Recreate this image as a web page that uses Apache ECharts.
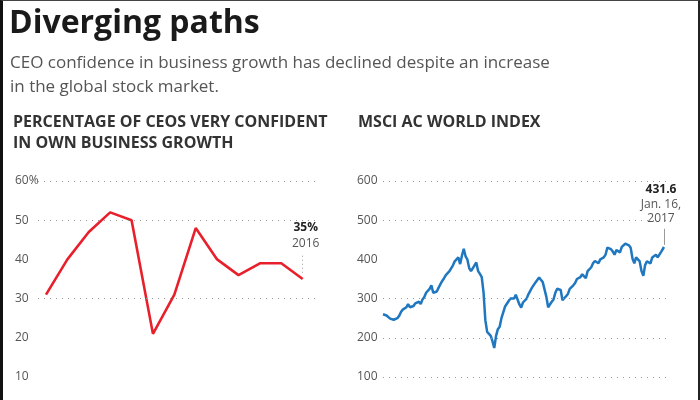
<!DOCTYPE html>
<html><head><meta charset="utf-8">
<script src="https://cdn.jsdelivr.net/npm/echarts@6/dist/echarts.min.js"></script>
<style>
html,body{margin:0;padding:0;background:#fff}
#c{width:700px;height:400px;position:absolute;left:0;top:0}
#frame{position:absolute;left:0;top:0;width:700px;height:400px;box-sizing:border-box;border-left:3px solid #111;border-top:1px solid #444;border-right:2px solid #222;pointer-events:none}
</style>
</head><body><div id="c"></div><div id="frame"></div>
<script>
// ---- CEO confidence (left panel) ----
const ceoYears = [2004,2005,2006,2007,2008,2009,2010,2011,2012,2013,2014,2015,2016];
const ceoPct   = [31,40,47,52,50,21,31,48,40,36,39,39,35];
const ceoTicks = [10,20,30,40,50,60];
const ceoGridValues = [60,50,30];

// ---- MSCI AC World Index (right panel), monthly readings ----
const msci2004 = [260,262,257,253,249,251,246,244,250,256,266,272];
const msci2005 = [270,278,286,278,280,281,288,287,292,286,298,304];
const msci2006 = [315,318,325,334,315,314,318,328,337,345,352,360];
const msci2007 = [365,370,372,385,395,400,405,388,410,427,408,400];
const msci2008 = [378,370,365,385,392,370,363,355,315,245,215,210];
const msci2009 = [205,190,174,205,222,228,250,265,280,285,294,300];
const msci2010 = [296,300,310,315,285,277,290,286,300,311,308,328];
const msci2011 = [335,342,340,354,348,342,337,305,278,285,292,298];
const msci2012 = [315,325,328,322,296,300,306,312,325,330,334,340];
const msci2013 = [350,350,355,362,360,352,370,372,380,390,396,398];
const msci2014 = [390,400,402,405,412,430,428,426,420,412,424,420];
const msci2015 = [418,432,430,440,444,436,430,402,390,405,402,395];
const msci2016 = [370,358,385,395,398,390,405,410,412,405,408,420];
const msciYears = [2004,2005,2006,2007,2008,2009,2010,2011,2012,2013,2014,2015,2016];
const msciMonthly = [msci2004,msci2005,msci2006,msci2007,msci2008,msci2009,msci2010,msci2011,msci2012,msci2013,msci2014,msci2015,msci2016];
const msciLastDate = '2017-01-16';
const msciLastValue = 431.6;
const msciTicks = [100,200,300,400,500,600];
const msciGridValues = [600,500,300,200,100];

const ceoData = ceoYears.map((y,i)=>[y, ceoPct[i]]);
const msciData = [];
msciYears.forEach((y,yi)=>{
  msciMonthly[yi].forEach((v,m)=>{
    msciData.push([y + '-' + String(m+1).padStart(2,'0') + '-01', v]);
  });
});
msciData.push([msciLastDate, msciLastValue]);

const FONT = 'Open Sans';
const gridLine = {type:[1,5], color:'#9a9a9a', width:1};
const tickLabel = {fontFamily:FONT, fontSize:12, color:'#555', align:'left'};

const chart = echarts.init(document.getElementById('c'), null, {renderer:'canvas'});
chart.setOption({
  backgroundColor:'#fff',
  animation:false,
  title:[
    {text:'Diverging paths', left:9, top:8, padding:0,
     textStyle:{fontFamily:FONT, fontWeight:'bold', fontSize:32, color:'#1a1a1a'}},
    {text:'CEO confidence in business growth has declined despite an increase\nin the global stock market.', left:10, top:51, padding:0,
     textStyle:{fontFamily:FONT, fontWeight:'normal', fontSize:17, lineHeight:24, color:'#555'}},
    {text:'PERCENTAGE OF CEOS VERY CONFIDENT\nIN OWN BUSINESS GROWTH', left:13, top:112, padding:0,
     textStyle:{fontFamily:FONT, fontWeight:'bold', fontSize:16, lineHeight:21, color:'#333'}},
    {text:'MSCI AC WORLD INDEX', left:358, top:112, padding:0,
     textStyle:{fontFamily:FONT, fontWeight:'bold', fontSize:16, lineHeight:21, color:'#333'}}
  ],
  grid:[
    {left:38, top:181, width:277, height:196},
    {left:383, top:181, width:285, height:196}
  ],
  xAxis:[
    {type:'value', gridIndex:0, min:2003.626, max:2016.576, show:false},
    {type:'time', gridIndex:1, min:'2004-01-01', max:'2017-03-25', show:false}
  ],
  yAxis:[
    {type:'value', gridIndex:0, min:10, max:60, interval:10,
     axisLine:{show:false}, axisTick:{show:false}, splitLine:{show:false},
     axisLabel:Object.assign({margin:23, formatter:v=> v===60 ? '60%' : String(v)}, tickLabel)},
    {type:'value', gridIndex:1, min:100, max:600, interval:100,
     axisLine:{show:false}, axisTick:{show:false}, splitLine:{show:false},
     axisLabel:Object.assign({margin:26}, tickLabel)}
  ],
  series:[
    {type:'line', xAxisIndex:0, yAxisIndex:0, data:ceoData, symbol:'none',
     lineStyle:{color:'#e8202b', width:2.6}, z:3,
     markLine:{silent:true, symbol:'none', label:{show:false},
       data: ceoGridValues.map(v=>({yAxis:v, lineStyle:gridLine})).concat([
         [{coord:[2016,36.6], lineStyle:{type:[1,3], color:'#999', width:1}}, {coord:[2016,41.3]}]
       ])},
     markPoint:{silent:true, symbol:'circle', symbolSize:1, itemStyle:{color:'rgba(0,0,0,0)'},
       data:[{coord:[2016,42], label:{show:true, position:'top', distance:0, offset:[3,0],
         formatter:'{a|35%}\n{b|2016}',
         rich:{a:{fontFamily:FONT, fontWeight:'bold', fontSize:12, color:'#222', lineHeight:16, align:'center'},
               b:{fontFamily:FONT, fontSize:12, color:'#555', lineHeight:15, align:'center'}}}}]}
    },
    {type:'line', xAxisIndex:1, yAxisIndex:1, data:msciData, symbol:'none',
     lineStyle:{color:'#1f77c0', width:2.5}, z:3,
     markLine:{silent:true, symbol:'none', label:{show:false},
       data: msciGridValues.map(v=>({yAxis:v, lineStyle:gridLine})).concat([
         [{coord:[msciLastDate,437], lineStyle:{type:'solid', color:'#999', width:1}}, {coord:[msciLastDate,478]}]
       ])},
     markPoint:{silent:true, symbol:'circle', symbolSize:1, itemStyle:{color:'rgba(0,0,0,0)'},
       data:[{coord:[msciLastDate,484], label:{show:true, position:'top', distance:0, offset:[-3,0],
         formatter:'{a|431.6}\n{b|Jan. 16,}\n{b|2017}',
         rich:{a:{fontFamily:FONT, fontWeight:'bold', fontSize:12, color:'#222', lineHeight:16, align:'center'},
               b:{fontFamily:FONT, fontSize:12, color:'#555', lineHeight:14, align:'center'}}}}]}
    }
  ]
});
</script>
</body></html>
